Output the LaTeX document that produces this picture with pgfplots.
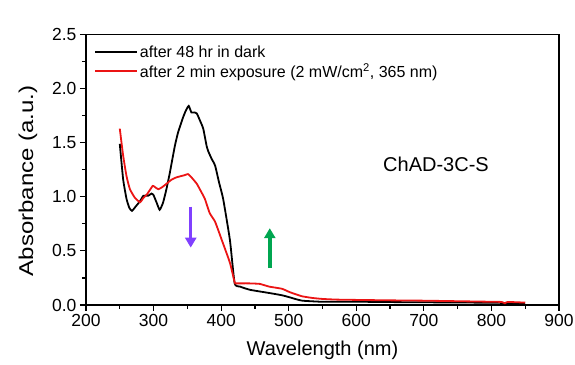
\documentclass[border=0pt]{standalone}
\usepackage{fontspec}
\setmainfont{Liberation Sans}
\usepackage{pgfplots}
\pgfplotsset{compat=1.18}
\usetikzlibrary{arrows.meta}
\definecolor{myred}{RGB}{235,20,20}
\definecolor{mypurple}{RGB}{128,64,255}
\definecolor{mygreen}{RGB}{0,166,80}
\begin{document}
\begin{tikzpicture}
\begin{axis}[
  scale only axis, width=473pt, height=270.5pt,
  xmin=200, xmax=900, ymin=0, ymax=2.5,
  xtick={200,300,...,900}, ytick={0,0.5,...,2.5},
  minor x tick num=1, minor y tick num=1,
  tick align=outside, xtick pos=bottom, ytick pos=left,
  major tick length=6pt, minor tick length=4pt,
  every tick/.style={black, line width=1.2pt},
  axis line style={line width=1.6pt},
  /pgf/number format/assume math mode=true,
  /pgf/number format/fixed, /pgf/number format/fixed zerofill,
  yticklabel style={/pgf/number format/precision=1, font=\fontsize{17.5}{20}\selectfont},
  xticklabel style={/pgf/number format/precision=0, /pgf/number format/fixed zerofill=false, /pgf/number format/1000 sep={}, font=\fontsize{17.5}{20}\selectfont},
  xlabel={Wavelength (nm)}, ylabel={\scalebox{1.2}[1]{Absorbance (a.u.)}},
  label style={font=\fontsize{20}{24}\selectfont},
  xlabel style={yshift=-7pt},
  ylabel style={xshift=-11pt, yshift=8pt},
  legend style={at={(rel axis cs:0,1)}, anchor=north west, xshift=5pt, yshift=-7pt,
    draw=none, fill=none, font=\fontsize{16}{18}\selectfont, row sep=0.5pt},
  legend cell align=left,
  legend image code/.code={\draw[#1] (0pt,0pt) -- (42pt,0pt);},
]
\addplot[black, line width=1.8pt, smooth, tension=0.3] coordinates {
(250,1.49) (255,1.16) (260,0.98) (264,0.90) (268,0.87) (273.5,0.91) (280,0.96)
(285,1.01) (292,1.01) (297,1.03) (299.6,1.02) (304.6,0.945) (309,0.88) (314,0.945)
(319,1.07) (324,1.22) (331.5,1.47) (336.5,1.60) (344,1.74) (348,1.80) (352,1.84)
(356,1.78) (360,1.78) (364,1.77) (369,1.70) (373.5,1.63) (378.5,1.47) (381,1.42)
(386,1.35) (391,1.29) (397,1.13) (403,0.98) (413,0.60) (420,0.20) (428,0.17)
(443,0.14) (472,0.11) (490,0.09) (502,0.07) (510,0.055) (520,0.04) (535,0.034)
(550,0.03) (600,0.03) (650,0.027) (700,0.025) (750,0.023) (800,0.021) (850,0.016)
};
\addlegendentry{after 48 hr in dark}
\addplot[myred, line width=1.8pt, smooth, tension=0.3] coordinates {
(250,1.63) (255,1.38) (260,1.19) (265,1.07) (272.5,0.99) (280,0.95) (285,0.99)
(290,1.02) (298.6,1.10) (302,1.09) (307,1.07) (313,1.09) (319,1.12) (327,1.16)
(334,1.18) (346,1.20) (351,1.21) (356,1.18) (364,1.12) (371,1.04) (376,0.98)
(383,0.85) (391,0.77) (401,0.60) (413,0.39) (420,0.21) (422.5,0.20) (440,0.20)
(457,0.195) (471,0.17) (490,0.15) (501,0.12) (510,0.10) (520,0.08) (535,0.065)
(550,0.056) (570,0.05) (600,0.047) (650,0.043) (700,0.04) (750,0.035) (800,0.03)
(815,0.028) (820,0.016) (824,0.028) (850,0.022)
};
\addlegendentry{after 2 min exposure (2 mW/cm\textsuperscript{2}, 365 nm)}
\draw[-{Triangle[width=11pt,length=10pt]}, mypurple, line width=3.5pt] (axis cs:355,0.91) -- (axis cs:355,0.53);
\draw[-{Triangle[width=11pt,length=10pt]}, mygreen, line width=3.5pt] (axis cs:472,0.34) -- (axis cs:472,0.71);
\node[font=\fontsize{20}{24}\selectfont] at (axis cs:718,1.30) {ChAD-3C-S};
\node[font=\fontsize{20}{24}\selectfont, anchor=base] at (rel axis cs:0.5,1) [yshift=10pt] {Absorption spectra};
\end{axis}
\pgfresetboundingbox
\path[use as bounding box] ([shift={(-86pt,-60pt)}]current axis.south west) rectangle ([shift={(16pt,34.5pt)}]current axis.north east);
\end{tikzpicture}
\end{document}
